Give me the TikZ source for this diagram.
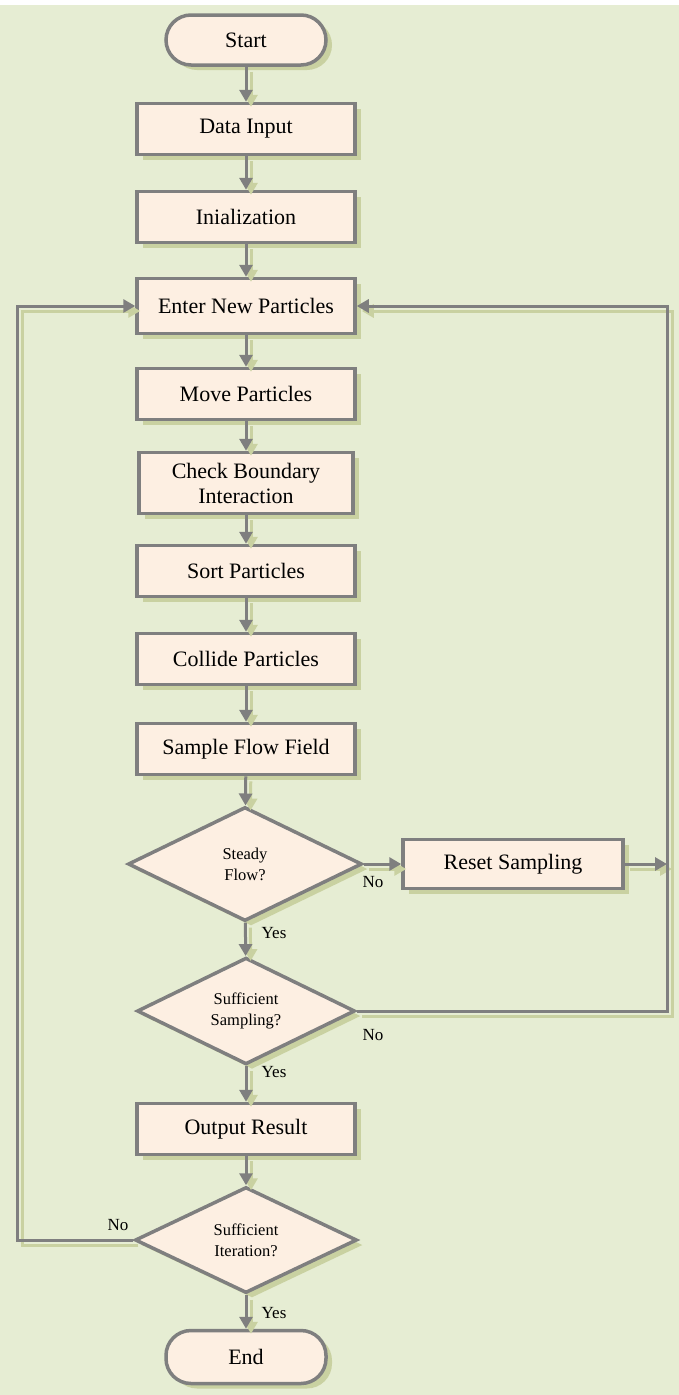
\documentclass[tikz,border=0pt]{standalone}
\usepackage{fontspec}
\setmainfont{Liberation Serif}
\definecolor{fBg}{HTML}{E6EDD3}
\definecolor{fPeach}{HTML}{FDEFE2}
\definecolor{fGray}{HTML}{7F7F7F}
\definecolor{fShade}{HTML}{C9D1A1}
\usetikzlibrary{arrows.meta,shapes.geometric,shadows}

\tikzset{
  procbox/.style={draw=fGray, line width=3.5pt, fill=fPeach, minimum width=218pt, minimum height=51pt, align=center, font=\fontsize{22}{25}\selectfont, drop shadow={shadow xshift=6pt, shadow yshift=-5pt, fill=fShade, opacity=1}},
  termbox/.style={procbox, rounded corners=25pt, minimum width=160pt, minimum height=50pt},
  decbox/.style={diamond, draw=fGray, line width=3.5pt, fill=fPeach, inner sep=0pt, align=center, font=\fontsize{16.5}{21}\selectfont, drop shadow={shadow xshift=6pt, shadow yshift=-5pt, fill=fShade, opacity=1}},
  link/.style={draw=fGray, line width=3pt, -{Triangle[length=12pt,width=13pt]}, preaction={draw=fShade, line width=3pt, -{Triangle[length=12pt,width=13pt]}, transform canvas={shift={(5pt,-5pt)}}}},
  lbl/.style={font=\fontsize{17}{19}\selectfont}
}

\begin{document}
\begin{tikzpicture}[x=1pt, y=-1pt]
\useasboundingbox (0,0) rectangle (679,1395);
\fill[fBg] (0,5) rectangle (679,1395);

\node[termbox] (start) at (246,40) {Start};
\node[procbox] (data) at (246,129) {Data Input};
\node[procbox] (init) at (246,217) {Inialization};
\node[procbox, minimum height=55pt] (enter) at (246,306) {Enter New Particles};
\node[procbox] (move) at (246,394) {Move Particles};
\node[procbox, minimum width=214pt, minimum height=61pt] (check) at (246,483) {Check Boundary\\ Interaction};
\node[procbox] (sort) at (246,571) {Sort Particles};
\node[procbox] (collide) at (246,659) {Collide Particles};
\node[procbox] (sample) at (246,749) {Sample Flow Field};
\node[decbox, minimum width=234pt, minimum height=114pt] (steady) at (245,864) {Steady\\ Flow?};
\node[procbox, minimum width=220pt, minimum height=49pt] (reset) at (513,864) {Reset Sampling};
\node[decbox, minimum width=218pt, minimum height=104pt] (suffs) at (246,1011) {Sufficient\\ Sampling?};
\node[procbox] (output) at (246,1129) {Output Result};
\node[decbox, minimum width=222pt, minimum height=106pt] (suffi) at (246,1240) {Sufficient\\ Iteration?};
\node[termbox, minimum height=53pt] (stop) at (246,1357) {End};

\coordinate (rb) at (667,1011);
\coordinate (lb) at (17,1240);

\draw[link] (start) -- (data);
\draw[link] (data) -- (init);
\draw[link] (init) -- (enter);
\draw[link] (enter) -- (move);
\draw[link] (move) -- (check);
\draw[link] (check) -- (sort);
\draw[link] (sort) -- (collide);
\draw[link] (collide) -- (sample);
\draw[link] (sample) -- (steady);
\draw[link] (steady) -- (suffs);
\draw[link] (suffs) -- (output);
\draw[link] (output) -- (suffi);
\draw[link] (suffi) -- (stop);
\draw[link] (steady.east) -- (reset.west);
\draw[link] (reset.east) -- (reset.east -| rb);
\draw[link] (suffs.east) -- (rb) |- (enter.east);
\draw[link] (suffi.west) -- (lb) |- (enter.west);

\node[lbl] (no1) at (373,882) {No};
\node[lbl] (yes1) at (274,933) {Yes};
\node[lbl] (no2) at (373,1035) {No};
\node[lbl] (yes2) at (274,1072) {Yes};
\node[lbl] (no3) at (118,1225) {No};
\node[lbl] (yes3) at (274,1313) {Yes};
\end{tikzpicture}
\end{document}
